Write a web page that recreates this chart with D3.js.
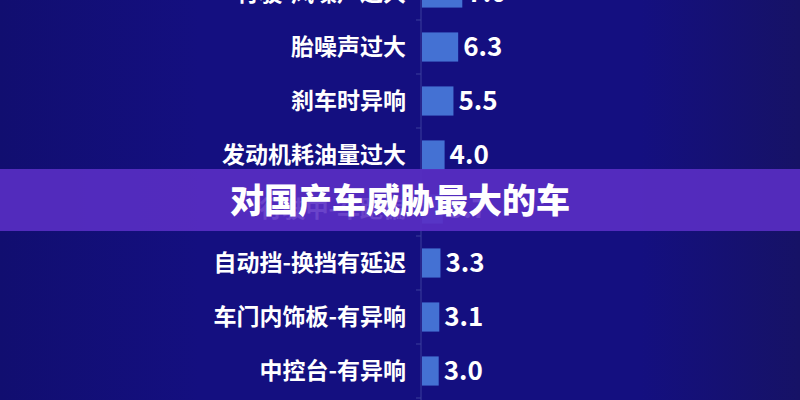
<!DOCTYPE html>
<html>
<head>
<meta charset="utf-8">
<script src="https://cdn.jsdelivr.net/npm/d3@7"></script>
<style>
  html, body { margin: 0; padding: 0; background: #130f7c; }
  svg { display: block; }
</style>
</head>
<body>
<svg id="chart"></svg>
<script>
var width = 800,
	height = 400;

// categories and values, top to bottom
var categories = ["行驶-风噪声过大", "胎噪声过大", "刹车时异响", "发动机耗油量过大",
	"行驶中-车跑偏", "自动挡-换挡有延迟", "车门内饰板-有异响", "中控台-有异响"];
var values = [7.0, 6.3, 5.5, 4.0, 3.7, 3.3, 3.1, 3.0];
var title = "对国产车威胁最大的车";

var svg = d3.select("#chart")
	.attr("width", width)
	.attr("height", height);

var defs = svg.append("defs");
var bg = defs.append("linearGradient")
	.attr("id", "bg")
	.attr("x1", "0").attr("x2", "1").attr("y1", "0").attr("y2", "0");
bg.append("stop").attr("offset", "0%").attr("stop-color", "#110e70");
bg.append("stop").attr("offset", "25%").attr("stop-color", "#140f80");
bg.append("stop").attr("offset", "80%").attr("stop-color", "#140f80");
bg.append("stop").attr("offset", "100%").attr("stop-color", "#161266");

svg.append("rect")
	.attr("width", width)
	.attr("height", height)
	.attr("fill", "url(#bg)");

var axisX = 421;
var y = d3.scaleBand()
	.domain(categories)
	.range([-34, 398])
	.paddingInner(0.46)
	.paddingOuter(0.23);

var x = d3.scaleLinear()
	.domain([0, 10])
	.range([axisX, axisX + 59]);

// axis line + ticks between categories
var g = svg.append("g");
g.append("line")
	.attr("x1", axisX).attr("x2", axisX)
	.attr("y1", 0).attr("y2", height)
	.attr("stroke", "#3b3f9c")
	.attr("stroke-width", 1);

var step = y.step();
var tickYs = d3.range(categories.length + 1).map(function(i) { return -34 + i * step; });
g.selectAll(".tick")
	.data(tickYs)
.enter().append("line")
	.attr("class", "tick")
	.attr("x1", axisX - 5).attr("x2", axisX)
	.attr("y1", function(d) { return d; })
	.attr("y2", function(d) { return d; })
	.attr("stroke", "#3b3f9c");

var rows = svg.selectAll(".row")
	.data(categories)
.enter().append("g")
	.attr("class", "row");

rows.append("rect")
	.attr("x", axisX + 1)
	.attr("y", function(d) { return y(d); })
	.attr("height", y.bandwidth())
	.attr("width", function(d, i) { return x(values[i]) - axisX - 1; })
	.attr("fill", "#4471d3");

rows.append("text")
	.attr("x", axisX - 15)
	.attr("y", function(d) { return y(d) + y.bandwidth() / 2; })
	.attr("dy", "0.36em")
	.attr("text-anchor", "end")
	.attr("fill", "#ffffff")
	.attr("font-family", "'Noto Sans CJK SC', sans-serif")
	.attr("font-weight", 700)
	.attr("font-size", 23)
	.text(function(d) { return d; });

rows.append("text")
	.attr("x", function(d, i) { return x(values[i]) + 5; })
	.attr("y", function(d) { return y(d) + y.bandwidth() / 2; })
	.attr("dy", "0.36em")
	.attr("fill", "#ffffff")
	.attr("font-family", "'Noto Sans CJK SC', sans-serif")
	.attr("font-weight", 700)
	.attr("font-size", 26)
	.text(function(d, i) { return values[i].toFixed(1); });

// title banner over the chart
svg.append("rect")
	.attr("x", 0).attr("y", 169)
	.attr("width", width).attr("height", 62)
	.attr("fill", "#5a2fc4")
	.attr("fill-opacity", 0.9);

svg.append("text")
	.attr("x", width / 2)
	.attr("y", 201)
	.attr("dy", "0.36em")
	.attr("text-anchor", "middle")
	.attr("fill", "#ffffff")
	.attr("font-family", "'Noto Sans CJK SC', sans-serif")
	.attr("font-weight", 900)
	.attr("font-size", 34)
	.text(title);
</script>
</body>
</html>
